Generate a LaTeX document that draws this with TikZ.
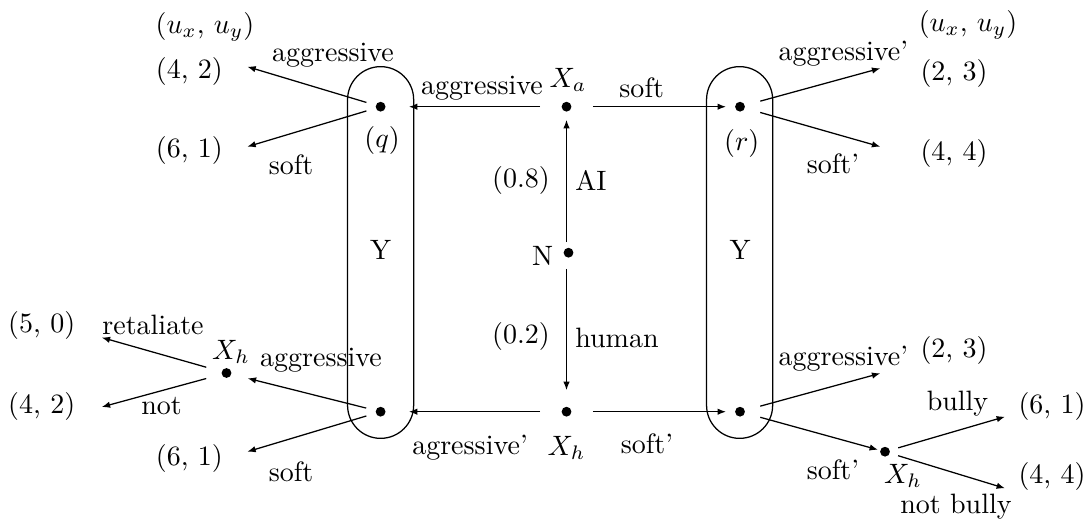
\documentclass[tikz,border=0pt]{standalone}
\usetikzlibrary{arrows.meta}
\begin{document}
\begin{tikzpicture}[x=0.357pt,y=-0.357pt,
  dot/.style={circle,fill=black,inner sep=0pt,minimum size=3.5pt},
  lbl/.style={inner sep=0pt,anchor=center},
  arr/.style={-{Latex[length=3pt,width=2.3pt]},line width=0.45pt},
  ln/.style={line width=0.45pt},
  infoset/.style={draw,line width=0.45pt,rounded corners=11.8pt,minimum width=23.6pt,minimum height=132.7pt,inner sep=0pt}]
\useasboundingbox (0,0) rectangle (1089,525);

% information sets
\node[infoset] (ovL) at (380.6,252.5) {};
\node[infoset] (ovR) at (739.6,252.5) {};

% decision nodes
\node[dot] (q) at (380.6,106.7) {};
\node[dot] (r) at (740,106.7) {};
\node[dot] (bl) at (380.6,411.7) {};
\node[dot] (br) at (740,411.7) {};
\node[dot] (Xa) at (566.5,106.7) {};
\node[dot] (N) at (568.5,252.7) {};
\node[dot] (Xhb) at (566.5,411.7) {};
\node[dot] (Xhl) at (226.5,373) {};
\node[dot] (Xhr) at (885,451.7) {};

% free ends
\coordinate (e42a) at (247.3,66.7);
\coordinate (e61a) at (247.3,146.7);
\coordinate (e23a) at (880.3,68.3);
\coordinate (e44a) at (880.3,146.7);
\coordinate (e61b) at (247.3,451.7);
\coordinate (e50) at (101.7,337.5);
\coordinate (e42b) at (101.7,407);
\coordinate (e23b) at (880.3,373.3);
\coordinate (e61c) at (1005,416.7);
\coordinate (e44b) at (1005,488.3);

% connectors
\draw[arr,shorten <=9.4pt,shorten >=10.1pt] (Xa.center) -- (q.center);
\draw[arr,shorten <=9.4pt,shorten >=5pt] (Xa.center) -- (r.center);
\draw[arr,shorten <=9.4pt,shorten >=10.1pt] (Xhb.center) -- (bl.center);
\draw[arr,shorten <=9.4pt,shorten >=5pt] (Xhb.center) -- (br.center);
\draw[arr,shorten <=3.8pt,shorten >=4.7pt] (N.center -| Xa) -- (Xa.center);
\draw[arr,shorten <=5.8pt,shorten >=7.7pt] (N.center -| Xhb) -- (Xhb.center);

\draw[arr,shorten <=5.3pt] (q.center) -- (e42a);
\draw[arr,shorten <=5.3pt] (q.center) -- (e61a);
\draw[arr,shorten <=7.5pt] (r.center) -- (e23a);
\draw[arr,shorten <=7.5pt] (r.center) -- (e44a);
\draw[arr,shorten <=5.3pt,shorten >=7.8pt] (bl.center) -- (Xhl.center);
\draw[arr,shorten <=5.3pt] (bl.center) -- (e61b);
\draw[arr,shorten <=7.5pt] (Xhl.center) -- (e50);
\draw[arr,shorten <=7.5pt] (Xhl.center) -- (e42b);
\draw[arr,shorten <=7.5pt] (br.center) -- (e23b);
\draw[arr,shorten <=7.5pt,shorten >=2.6pt] (br.center) -- (Xhr.center);
\draw[arr,shorten <=4.9pt] (Xhr.center) -- (e61c);
\draw[arr,shorten <=4.9pt] (Xhr.center) -- (e44b);

% labels top-left
\node[lbl] (uL) at (205,26.7) {$(u_x$, $u_y)$};
\node[lbl] (p42a) at (189.4,71.7) {(4, 2)};
\node[lbl] (p61a) at (189.4,150) {(6, 1)};
\node[lbl] (la1) at (333,55) {aggressive};
\node[lbl] (ls1) at (291,165) {soft};
\node[lbl] (lq) at (382,140) {$(q)$};
\node[lbl] (lY1) at (380.6,250) {Y};

% labels top-middle
\node[lbl] (la2) at (482,88.3) {aggressive};
\node[lbl] (lXa) at (568,80) {$X_a$};
\node[lbl] (ls2) at (641.7,87.3) {soft};
\node[lbl] (l08) at (521,180) {(0.8)};
\node[lbl] (lAI) at (591,180) {AI};
\node[lbl] (lN) at (542.7,256) {N};
\node[lbl] (l02) at (521,336.7) {(0.2)};
\node[lbl] (lhum) at (617,338.3) {human};

% labels top-right
\node[lbl] (uR) at (968,25) {$(u_x$, $u_y)$};
\node[lbl] (la3) at (843.4,53.3) {aggressive'};
\node[lbl] (p23a) at (954,73.3) {(2, 3)};
\node[lbl] (ls3) at (833,163.3) {soft'};
\node[lbl] (p44a) at (954,153.3) {(4, 4)};
\node[lbl] (lr) at (741.7,143.3) {$(r)$};
\node[lbl] (lY2) at (740,250) {Y};

% labels bottom-left
\node[lbl] (p50) at (41.7,325) {(5, 0)};
\node[lbl] (lret) at (153,325) {retaliate};
\node[lbl] (lXhl) at (231,352) {$X_h$};
\node[lbl] (p42b) at (41.7,406.7) {(4, 2)};
\node[lbl] (lnot) at (161.5,406) {not};
\node[lbl] (la4) at (321,360) {aggressive};
\node[lbl] (p61b) at (189.4,458.3) {(6, 1)};
\node[lbl] (ls4) at (291,471.7) {soft};

% labels bottom-middle
\node[lbl] (la5) at (470,448) {agressive'};
\node[lbl] (lXhb) at (566.5,448.3) {$X_h$};
\node[lbl] (ls5) at (647,443.3) {soft'};

% labels bottom-right
\node[lbl] (la6) at (843.4,358.3) {aggressive'};
\node[lbl] (p23b) at (954,350) {(2, 3)};
\node[lbl] (ls6) at (833,470) {soft'};
\node[lbl] (lXhr) at (903,476) {$X_h$};
\node[lbl] (lbul) at (957.5,403.3) {bully};
\node[lbl] (p61c) at (1052,406.7) {(6, 1)};
\node[lbl] (p44b) at (1052,476.7) {(4, 4)};
\node[lbl] (lnb) at (956,507) {not bully};
\end{tikzpicture}
\end{document}
